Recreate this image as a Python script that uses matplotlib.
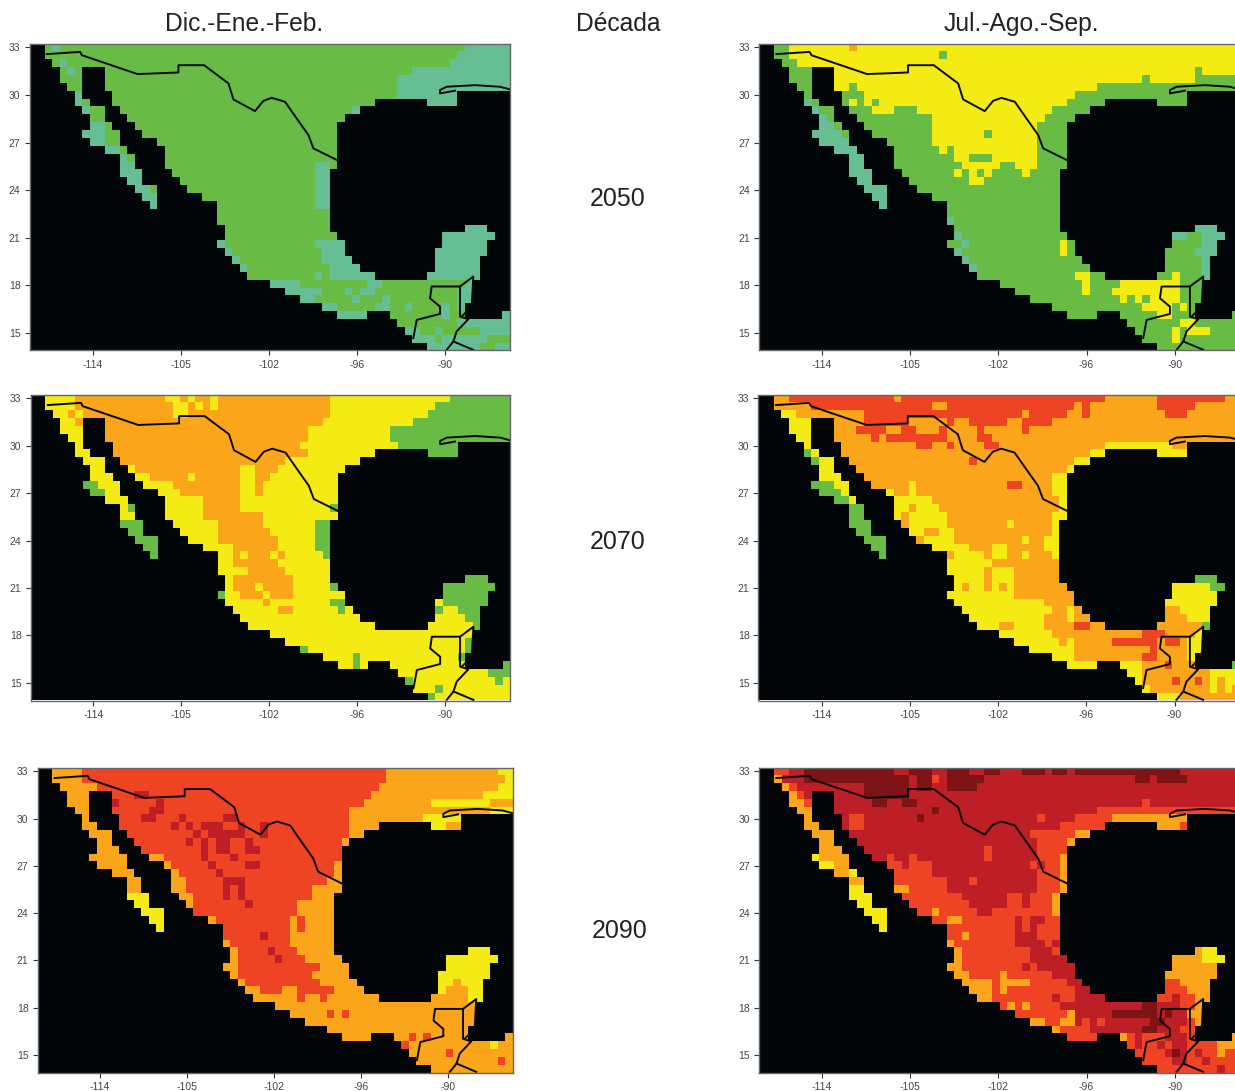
#!/usr/bin/env python3
import numpy as np
import matplotlib
matplotlib.use("Agg")
import matplotlib.pyplot as plt
from matplotlib.colors import ListedColormap

plt.rcParams["font.family"] = ["Liberation Sans", "DejaVu Sans"]

COLUMN_TITLES = ["Dic.-Ene.-Feb.", "Década", "Jul.-Ago.-Sep."]
DECADES = ["2050", "2070", "2090"]
X_TICKS = [-114, -108, -102, -96, -90]
X_LABELS = ["-114", "-105", "-102", "-96", "-90"]
Y_TICKS = [33, 30, 27, 24, 21, 18, 15]

# categories of the raster, "." is no data
CATEGORIES = ".TGYORDM"
COLORS = ["#020608", "#66BF94", "#68BC45", "#F4EB14", "#FBA61A", "#EF4423", "#BE1E26", "#7E1315"]

# land cells per row, top row first: start:end column
LAND = [
    "2:64", "2:64", "3:64", "4:7 10:64", "4:7 10:64", "5:7 10:64", "6:7 11:57",
    "6:8 11:46 53:57", "7:10 12:44", "8:10 13:42", "8:11 14:41", "7:12 15:41",
    "8:12 17:41", "10:13 18:41", "12:14 18:41", "12:14 18:41", "12:15 19:40",
    "13:15 20:40", "14:17 21:40", "15:17 23:40", "16:17 25:40", "25:40", "25:40",
    "26:40 58:61", "26:41 55:62", "25:42 55:61", "26:42 54:61", "27:43 54:60",
    "28:44 54:60", "29:46 53:60", "32:59", "34:59", "36:59", "39:58",
    "41:45 48:58 63:64", "49:64", "50:64", "51:64", "53:64",
]

# each panel: a base category, then patches per row (start:end + category)
DJF_2050 = [
    "3:4T 58:64T", "57:64T", "4:5T 56:64T", "5:6T 51:64T", "49:64T", "49:64T",
    "6:7T 49:57T", "6:7T 53:57T", "7:8T 43:44T", "42:43T", "8:10T", "7:10T", "8:10T",
    "10:12T", "12:13T", "12:14T 38:40T", "12:15T 38:40T", "13:15T 38:40T",
    "14:16T 38:40T", "15:17T 38:40T", "16:17T 38:40T", "", "", "58:61T", "55:62T",
    "25:26T 38:42T 55:61T", "26:27T 39:42T 54:61T", "27:28T 39:43T 54:60T",
    "28:29T 40:44T 54:60T", "38:39T 40:46T 53:60T", "32:36T 45:47T 58:59T",
    "34:39T 42:43T 44:46T 57:59T", "36:38T 43:44T 47:48T 57:59T",
    "39:41T 46:48T 50:51T 55:56T 57:58T", "41:45T 55:56T 63:64T", "57:64T",
    "50:52T 54:55T 60:64T", "51:54T 55:61T", "53:60T 62:64T",
]
DJF_2070 = [
    "6:18O 20:21O 22:24O 25:40O 56:64G", "6:19O 21:22O 23:24O 25:40O 54:64G",
    "5:6O 7:19O 21:40O 53:64G", "6:7O 10:39O 51:64G", "10:37O 48:64G", "10:37O 48:64G",
    "11:36O 49:57G", "11:37O 53:57G", "12:34O", "14:28O 30:33O 42:43G",
    "16:21O 22:28O 30:32O", "19:28O 30:31O 7:9G", "20:28O 30:31O 8:10G", "23:28O",
    "23:28O 13:14G 40:41G", "23:31O", "25:31O 12:15G 38:40G", "25:32O 13:15G 38:40G",
    "25:33O 14:17G 38:40G", "27:33O 15:17G 38:40G", "27:28O 29:32O 33:34O 16:17G 39:40G",
    "27:33O", "29:34O", "27:35O 58:61G", "27:30O 31:35O 40:41G 55:62G",
    "28:31O 32:35O 25:26G 55:61G", "31:32O 40:42G 55:61G",
    "33:35O 41:42G 54:55G 57:60G", "58:60G", "59:60G", "", "58:59G", "58:59G 36:37G",
    "43:44G 38:39G 57:58G", "43:44G 63:64G", "61:64G", "50:51G 62:63G", "54:55G", "53:54G",
]
DJF_2090 = [
    "6:47R 62:64Y", "6:47R 63:64Y", "8:46R 62:64Y", "10:45R 13:15D 60:64Y",
    "10:44R 10:11D 16:17D 53:61Y", "10:42R 15:17D 61:64Y",
    "11:42R 14:16D 19:20D 25:27D 52:57Y", "11:42R 18:19D 20:21D 22:25D 27:28D 30:31D 53:55Y",
    "12:42R 21:22D 23:28D 30:31D", "13:41R 20:21D 22:23D 24:26D 28:29D",
    "14:41R 22:23D 24:26D 28:30D", "17:41R 22:23D 26:27D", "18:40R 23:24D 28:30D",
    "19:40R 24:25D", "20:39R 25:28D", "20:37R 25:26D 27:28D",
    "12:15Y 21:37R 25:26D 27:28D", "13:15Y 21:35R 28:29D", "14:17Y 21:35R",
    "15:17Y 24:34R 35:36R", "16:17Y 25:34R 35:36R", "25:34R 30:31D", "26:34R",
    "27:35R 31:32D 58:61Y", "27:36R 32:33D 55:62Y", "27:38R 55:61Y", "27:37R 54:61Y",
    "28:38R 54:60Y 56:57O", "30:33R 35:40R 54:55Y 58:60Y", "35:36R 38:39R 58:60Y",
    "", "39:40R 41:42R", "", "38:39Y", "50:51R 52:53R", "49:50R 61:62Y", "55:56R", "62:63R", "",
]
JAS_2050 = [
    "4:64Y 12:13O", "4:64Y 24:25G", "5:64Y", "10:58Y 59:64Y", "10:51Y 52:58Y",
    "10:45Y 12:13G", "14:42Y", "6:7T 12:13Y 14:15Y 16:41Y", "7:8T 15:18Y 21:39Y",
    "8:9T 23:38Y", "8:10T 23:37Y", "7:11T 23:37Y 30:31G", "8:12T 23:37Y",
    "10:13T 24:25Y 26:37Y", "12:14T 26:28Y 31:37Y", "12:14T 27:32Y 34:37Y",
    "12:15T 26:27Y 28:29Y 30:31Y 35:36Y", "13:15T 28:30Y", "14:17T", "15:17T", "16:17T",
    "", "25:26T", "58:61T", "26:27T 55:57T 59:62T", "27:28T 40:41Y 59:61T",
    "26:27T 40:41Y 58:61T", "27:28T 59:60T", "28:29T 59:60T", "42:44Y 55:56Y 59:60T",
    "43:44Y 48:56Y", "43:44Y 47:56Y", "48:49Y 50:51Y 52:56Y", "51:55Y 56:57Y", "53:55Y",
    "56:58Y", "55:56Y 57:60Y", "55:56Y", "",
]
JAS_2070 = [
    "4:18R 19:46R 53:62R", "7:23R 25:42R 43:44R 53:58R", "3:5Y 14:35R 36:41R 43:44R 54:57R",
    "4:7Y 14:20R 25:26R 28:33R 35:39R", "4:7Y 13:17R 19:21R 24:25R 29:30R 35:36R",
    "5:7Y 15:16R 17:25R 29:31R", "6:7Y 21:23R 25:26R 30:32R 46:55Y",
    "6:8Y 6:7G 44:46Y 53:57Y", "7:10Y 7:8G 28:29R 42:44Y", "8:10Y 41:42Y", "8:11Y 39:41Y",
    "10:12Y 7:10G 20:21Y 33:35R 39:41Y", "11:12Y 8:11G 17:18Y 20:21Y 39:41Y",
    "12:13Y 10:12G 18:23Y 40:41Y", "12:14G 18:20Y 21:24Y 40:41Y", "12:14G 18:19Y 20:25Y 39:41Y",
    "12:15G 20:25Y 33:34Y 39:40Y", "13:15G 20:22Y 24:26Y 39:40Y",
    "14:17G 22:26Y 35:36Y 38:40Y", "15:17G 23:28Y 31:33Y 38:40Y",
    "16:17G 26:30Y 31:33Y 35:36Y 39:40Y", "25:31Y", "25:30Y 31:34Y", "26:30Y 31:34Y 58:61G",
    "26:27Y 28:30Y 31:32Y 33:34Y 55:60Y 60:62G", "25:34Y 55:61Y", "26:38Y 54:61Y",
    "27:39Y 41:42Y 56:60Y", "28:38Y 41:42Y 57:60Y", "29:32Y 34:38Y 42:44R 59:60G",
    "32:39Y 51:54R 58:59Y", "34:40Y 41:42Y 47:53R 54:56R 57:59Y", "36:42Y 52:53R 57:59Y",
    "39:42Y 51:53R 57:58Y", "41:45Y 48:51Y 54:55R 63:64G", "49:51Y 60:64Y",
    "50:51Y 55:56R 58:59R 60:61Y 62:64Y", "51:52Y 60:61Y 62:63Y", "53:56Y",
]
JAS_2090 = [
    "2:4R 6:18M 20:23M 25:28M 30:32M 35:38M 39:41M 42:56M", "2:3O 6:20M 21:23M 23:24R 25:30M 50:52M 53:57M",
    "3:4O 4:5R 14:20M 21:23M 25:26M 26:29M", "4:5O 5:6R 14:20M", "4:6O 6:7R 15:17M 19:21M 51:52R",
    "5:7O 23:24M 45:64R", "6:7O 12:14R 21:22M 37:38R 42:47R 47:57O", "6:8O 12:14R 40:46R 53:56O 56:57R",
    "7:10O 36:42R 42:44O", "8:10O 37:41R 41:42O", "8:11O 30:31R 37:41R",
    "7:8Y 8:12O 17:18R 20:21R 30:31R 37:40R 40:41O", "8:10Y 10:12O 17:19R 20:23R 36:37R 38:40R 40:41O",
    "10:13O 12:13Y 18:23R 37:40R 40:41O", "12:14O 18:25R 28:29R 37:40R 40:41O",
    "12:14Y 18:20O 20:25R 37:40R 40:41O", "12:15Y 19:27R 33:35R 36:39R 39:40O",
    "13:15Y 20:28R 33:35R 36:39R 39:40O", "14:17Y 21:29R 23:24O 31:39R 39:40O",
    "15:17Y 23:34R 25:27O 35:36R 38:40R", "16:17Y 25:34R 35:36R 37:40R", "25:34R 27:28O 37:40R",
    "25:26O 26:34R 38:39R", "26:27O 27:36R 39:40R 58:59O 59:61Y", "26:27O 27:36R 55:59O 59:62Y",
    "25:27O 27:35R 36:37R 55:61O", "26:28O 28:39R 32:33O 54:61O", "27:31O 31:41R 32:36O 54:56R 56:60O",
    "28:31O 31:42R 32:33O 54:57R 57:60O", "29:31O 31:39R 40:42R 53:55R 56:58R 58:60O",
    "32:40R 33:34O 35:36O 51:53M 56:58R 58:59O", "34:42R 41:42O 47:53M 54:55M 57:59O",
    "36:38O 38:40R 40:42O 43:44R 45:46R 52:54M 57:58R 58:59O", "39:40O 40:44R 51:53M 56:58R",
    "41:45R 48:49O 49:50R 51:54R 57:58R 63:64O", "49:50R 51:53R 54:55R 57:61R 61:64O",
    "50:54R 55:56M 57:58R 59:61R 61:62O 62:64R", "51:55R 57:59R 60:64R", "53:61R 61:62D 62:64R",
]

# political borders, lon / lat
US_MX_LON = [-117.12, -114.85, -114.73, -110.94, -108.15, -108.15, -106.40, -104.74, -104.40,
             -102.93, -102.36, -101.79, -100.88, -100.09, -99.29, -98.95, -97.25]
US_MX_LAT = [32.58, 32.72, 32.51, 31.32, 31.42, 31.88, 31.88, 30.73, 29.72,
             28.98, 29.63, 29.82, 29.57, 28.52, 27.47, 26.63, 25.85]
GUATE_LON = [-92.14, -91.91, -90.32, -90.32, -91.0, -90.89, -88.96, -88.96, -88.39, -89.19, -89.41, -89.87]
GUATE_LAT = [14.65, 15.80, 16.18, 16.64, 17.17, 17.91, 17.91, 16.01, 15.85, 15.07, 14.44, 13.91]
BELIZE_LON = [-88.96, -88.05, -88.16, -88.85]
BELIZE_LAT = [17.91, 18.54, 16.64, 16.01]
HONDURAS_LON = [-89.41, -88.05]
HONDURAS_LAT = [14.44, 13.91]
COAST_LON = [-89.30, -90.32, -90.32, -89.87, -87.94, -86.23, -85.55]
COAST_LAT = [30.27, 30.10, 30.31, 30.52, 30.62, 30.52, 30.35]

N_ROWS = len(LAND)
N_COLS = 64
LON_MIN, LON_MAX = -118.3, -85.55
LAT_MIN, LAT_MAX = 13.87, 33.25
W, H = 1235, 1091


def spans(text):
    for tok in text.split():
        cat = tok[-1] if tok[-1].isalpha() else None
        start, end = (tok[:-1] if cat else tok).split(":")
        yield int(start), int(end), cat


def build_grid(base, rows):
    grid = np.zeros((N_ROWS, N_COLS), dtype=int)
    land = np.zeros((N_ROWS, N_COLS), dtype=bool)
    for r in range(N_ROWS):
        grid[r, :] = CATEGORIES.index(base)
        for start, end, cat in spans(rows[r]):
            grid[r, start:end] = CATEGORIES.index(cat)
        for start, end, _ in spans(LAND[r]):
            land[r, start:end] = True
    grid[~land] = 0
    return grid


def draw_panel(box, base, rows):
    left, top, right, bottom = box
    ax = fig.add_axes([left / W, 1 - bottom / H, (right - left) / W, (bottom - top) / H])
    lon = np.linspace(LON_MIN, LON_MAX, N_COLS + 1)
    lat = np.linspace(LAT_MAX, LAT_MIN, N_ROWS + 1)
    ax.pcolormesh(lon, lat, build_grid(base, rows), cmap=cmap, vmin=0, vmax=len(COLORS) - 1)
    for xs, ys in [(US_MX_LON, US_MX_LAT), (GUATE_LON, GUATE_LAT), (BELIZE_LON, BELIZE_LAT),
                   (HONDURAS_LON, HONDURAS_LAT), (COAST_LON, COAST_LAT)]:
        ax.plot(xs, ys, color="#0a0a0a", lw=1.4)
    ax.set_xlim(LON_MIN, LON_MAX)
    ax.set_ylim(LAT_MIN, LAT_MAX)
    ax.set_xticks(X_TICKS, X_LABELS)
    ax.set_yticks(Y_TICKS)
    ax.tick_params(length=3.5, width=0.8, color="#333333", labelcolor="#444444", labelsize=7.5, pad=3)
    for sp in ax.spines.values():
        sp.set_color("#666666")
        sp.set_linewidth(1.0)
    return ax


cmap = ListedColormap(COLORS)
fig = plt.figure(figsize=(W / 100, H / 100), dpi=100)

draw_panel((29.5, 43.5, 510, 350.5), "G", DJF_2050)
draw_panel((30.5, 394.5, 510, 700.5), "Y", DJF_2070)
draw_panel((37.5, 767.5, 512.5, 1072.5), "O", DJF_2090)
draw_panel((759, 43.5, 1240, 350.5), "G", JAS_2050)
draw_panel((758.5, 394.5, 1240, 700.5), "O", JAS_2070)
draw_panel((759, 767.5, 1240, 1072.5), "D", JAS_2090)

for label, x in zip(COLUMN_TITLES, [244, 618, 1021]):
    fig.text(x / W, 1 - 24 / H, label, ha="center", va="center", fontsize=17.7, color="#222222")
for label, x, y in zip(DECADES, [618, 618, 620], [199, 542, 931]):
    fig.text(x / W, 1 - y / H, label, ha="center", va="center", fontsize=18, color="#222222")

fig.savefig("out.png", dpi=100)
